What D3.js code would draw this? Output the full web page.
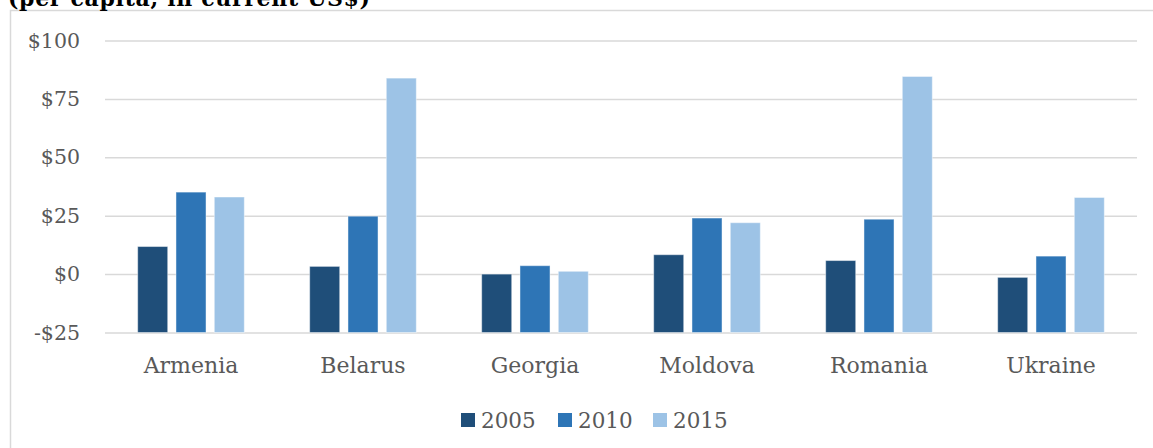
<!DOCTYPE html>
<html>
<head>
<meta charset="utf-8">
<script src="https://cdnjs.cloudflare.com/ajax/libs/d3/7.8.5/d3.min.js"></script>
<style>
body { margin: 0; background: #fff; }
svg { display: block; }
</style>
</head>
<body>
<div id="chart"></div>
<script>
var countries = ["Armenia", "Belarus", "Georgia", "Moldova", "Romania", "Ukraine"];
var years = ["2005", "2010", "2015"];
var values2005 = [11.8, 3.3, 0, 8.3, 5.8, -1.4];
var values2010 = [35.1, 24.8, 3.6, 24.0, 23.5, 7.7];
var values2015 = [33.0, 83.9, 1.2, 22.0, 84.6, 32.8];
var yTicks = [-25, 0, 25, 50, 75, 100];
var colors = ["#1f4e79", "#2e75b6", "#9dc3e6"];

var width = 1153, height = 448;
var margin = {top: 40.5, right: 16, bottom: 115.5, left: 105};
var font = "'DejaVu Serif', Georgia, serif";

var svg = d3.select("#chart").append("svg")
	.attr("width", width)
	.attr("height", height);

// chart frame
svg.append("path")
	.attr("d", "M10.5," + height + "V10.5H" + width)
	.attr("fill", "none")
	.attr("stroke", "#d9d9d9")
	.attr("stroke-width", 1.5);

// title sits partly above the page, as in the source image
svg.append("text")
	.attr("x", 8)
	.attr("y", 6)
	.attr("font-family", font)
	.attr("font-weight", "bold")
	.attr("font-size", 22)
	.attr("textLength", 362)
	.attr("fill", "#000")
	.text("(per capita, in current US$)");

var g = svg.append("g")
	.attr("transform", "translate(" + margin.left + "," + margin.top + ")");

var w = width - margin.left - margin.right;
var h = height - margin.top - margin.bottom;

var x0 = d3.scaleBand()
	.domain(countries)
	.range([0, w])
	.paddingInner(0.38)
	.paddingOuter(0.19);

var x1 = d3.scaleBand()
	.domain(years)
	.range([0, x0.bandwidth()])
	.paddingInner(0.216);

var y = d3.scaleLinear()
	.domain([-25, 100])
	.range([h, 0]);

var yAxis = g.append("g")
	.call(d3.axisLeft(y).tickValues(yTicks).tickSize(-w).tickPadding(25)
		.tickFormat(function(d) { return (d < 0 ? "-$" : "$") + Math.abs(d); }));
yAxis.select(".domain").remove();
yAxis.selectAll("line")
	.attr("stroke", "#d9d9d9")
	.attr("stroke-width", 1.5);
yAxis.selectAll("text")
	.attr("font-family", font)
	.attr("font-size", 20.5)
	.attr("fill", "#595959");

var series = [values2005, values2010, values2015];
var rows = countries.map(function(c, i) {
	return years.map(function(yr, k) {
		return {country: c, year: yr, value: series[k][i], color: colors[k]};
	});
});

g.selectAll("g.group")
	.data(rows)
	.enter().append("g")
	.attr("class", "group")
	.attr("transform", function(d, i) { return "translate(" + x0(countries[i]) + ",0)"; })
	.selectAll("rect")
	.data(function(d) { return d; })
	.enter().append("rect")
	.attr("x", function(d) { return x1(d.year); })
	.attr("y", function(d) { return y(d.value); })
	.attr("width", x1.bandwidth())
	.attr("height", function(d) { return y(-25) - y(d.value); })
	.attr("fill", function(d) { return d.color; })
	.attr("stroke", "rgba(255,255,255,0.45)")
	.attr("stroke-width", 1);

var xAxis = g.append("g")
	.attr("transform", "translate(0," + h + ")")
	.call(d3.axisBottom(x0).tickSize(0).tickPadding(25));
xAxis.select(".domain").remove();
xAxis.selectAll("text")
	.attr("font-family", font)
	.attr("font-size", 22)
	.attr("fill", "#595959");

// legend
var legendX = [461, 558, 653];
var legend = svg.append("g");
years.forEach(function(yr, k) {
	legend.append("rect")
		.attr("x", legendX[k])
		.attr("y", 413)
		.attr("width", 14)
		.attr("height", 14)
		.attr("fill", colors[k]);
	legend.append("text")
		.attr("x", legendX[k] + 20)
		.attr("y", 428)
		.attr("font-family", font)
		.attr("font-size", 21.5)
		.attr("fill", "#595959")
		.text(yr);
});
</script>
</body>
</html>
